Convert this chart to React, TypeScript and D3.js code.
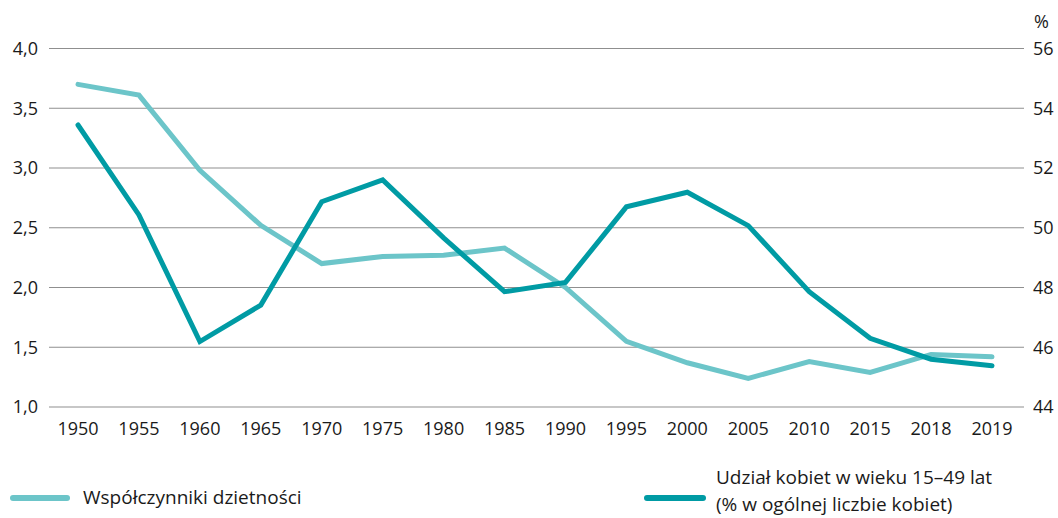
import React from "react";
import * as d3 from "d3";

const years = ["1950","1955","1960","1965","1970","1975","1980","1985","1990","1995","2000","2005","2010","2015","2018","2019"];
const fertility = [3.70, 3.61, 2.98, 2.52, 2.20, 2.26, 2.27, 2.33, 2.00, 1.55, 1.37, 1.24, 1.38, 1.29, 1.44, 1.42];
const womenShare = [53.44, 50.43, 46.19, 47.41, 50.87, 51.6, 49.66, 47.86, 48.17, 50.7, 51.19, 50.07, 47.86, 46.3, 45.6, 45.38];
const leftTicks = [1.0, 1.5, 2.0, 2.5, 3.0, 3.5, 4.0];
const rightTicks = [44, 46, 48, 50, 52, 54, 56];

const LIGHT = "#6cc5c9";
const DARK = "#009ba4";
const FONT = "'Open Sans', sans-serif";

export default function App() {
  const W = 1058, H = 518;
  const gridX0 = 49, gridX1 = 1024;
  const x = d3.scalePoint<string>().domain(years).range([78, 992]);
  const yL = d3.scaleLinear().domain([1, 4]).range([407, 48.5]);
  const yR = d3.scaleLinear().domain([44, 56]).range([407, 48.5]);
  const lineL = d3.line<number>().x((_, i) => x(years[i])!).y((d) => yL(d));
  const lineR = d3.line<number>().x((_, i) => x(years[i])!).y((d) => yR(d));
  const fmt = (v: number) => v.toFixed(1).replace(".", ",");

  return (
    <svg width={W} height={H} style={{ position: "absolute", left: 0, top: 0, background: "#fff" }} fontFamily={FONT}>
      {leftTicks.map((t) => (
        <g key={t}>
          <line x1={gridX0} x2={gridX1} y1={yL(t)} y2={yL(t)} stroke="#8f8f8f" strokeWidth={1.2} />
          <text x={38} y={yL(t)} dy="0.35em" textAnchor="end" fontSize={18} fill="#1a1a1a">{fmt(t)}</text>
        </g>
      ))}
      {rightTicks.map((t) => (
        <text key={t} x={1033} y={yR(t)} dy="0.35em" textAnchor="start" fontSize={18} fill="#1a1a1a">{t}</text>
      ))}
      <text x={1034} y={22} dy="0.35em" fontSize={18} fill="#1a1a1a">%</text>
      {years.map((yr) => (
        <text key={yr} x={x(yr)!} y={435} textAnchor="middle" fontSize={18} fill="#1a1a1a">{yr}</text>
      ))}
      <path d={lineL(fertility)!} fill="none" stroke={LIGHT} strokeWidth={5} strokeLinejoin="miter" strokeLinecap="round" />
      <path d={lineR(womenShare)!} fill="none" stroke={DARK} strokeWidth={5} strokeLinejoin="miter" strokeLinecap="round" />
      <line x1={13} x2={67} y1={498} y2={498} stroke={LIGHT} strokeWidth={6} strokeLinecap="round" />
      <text x={83} y={504} fontSize={19} fill="#1a1a1a">Współczynniki dzietności</text>
      <line x1={647} x2={703} y1={498} y2={498} stroke={DARK} strokeWidth={6} strokeLinecap="round" />
      <text x={716} y={484} fontSize={19} fill="#1a1a1a">Udział kobiet w wieku 15–49 lat</text>
      <text x={716} y={511} fontSize={19} fill="#1a1a1a">(% w ogólnej liczbie kobiet)</text>
    </svg>
  );
}
